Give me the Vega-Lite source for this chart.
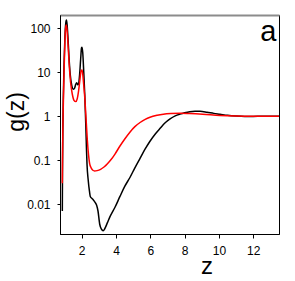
{
  "$schema": "https://vega.github.io/schema/vega-lite/v6.json",
  "width": 219,
  "height": 219,
  "autosize": "none",
  "padding": {"left": 60, "top": 15, "right": 16, "bottom": 47},
  "background": "white",
  "config": {
    "view": {"stroke": "#000000", "strokeWidth": 1},
    "font": "Liberation Sans"
  },
  "resolve": {"axis": {"x": "independent"}},
  "datasets": {
    "curves": [
      {"s": "black", "z": 0.87, "g": 0.007},
      {"s": "black", "z": 0.88, "g": 0.05},
      {"s": "black", "z": 0.9, "g": 0.5},
      {"s": "black", "z": 0.93, "g": 3},
      {"s": "black", "z": 0.97, "g": 15},
      {"s": "black", "z": 1.02, "g": 60},
      {"s": "black", "z": 1.07, "g": 130},
      {"s": "black", "z": 1.11, "g": 154},
      {"s": "black", "z": 1.15, "g": 120},
      {"s": "black", "z": 1.2, "g": 60},
      {"s": "black", "z": 1.26, "g": 22},
      {"s": "black", "z": 1.33, "g": 9},
      {"s": "black", "z": 1.42, "g": 5},
      {"s": "black", "z": 1.5, "g": 4.1},
      {"s": "black", "z": 1.58, "g": 4.3},
      {"s": "black", "z": 1.65, "g": 5.3},
      {"s": "black", "z": 1.71, "g": 5.8},
      {"s": "black", "z": 1.77, "g": 5.2},
      {"s": "black", "z": 1.82, "g": 5.5},
      {"s": "black", "z": 1.88, "g": 9},
      {"s": "black", "z": 1.94, "g": 20},
      {"s": "black", "z": 1.99, "g": 36},
      {"s": "black", "z": 2.02, "g": 37},
      {"s": "black", "z": 2.06, "g": 28},
      {"s": "black", "z": 2.12, "g": 10},
      {"s": "black", "z": 2.18, "g": 3},
      {"s": "black", "z": 2.24, "g": 0.6},
      {"s": "black", "z": 2.28, "g": 0.17},
      {"s": "black", "z": 2.31, "g": 0.08},
      {"s": "black", "z": 2.38, "g": 0.035},
      {"s": "black", "z": 2.45, "g": 0.02},
      {"s": "black", "z": 2.5, "g": 0.015},
      {"s": "black", "z": 2.6, "g": 0.0135},
      {"s": "black", "z": 2.68, "g": 0.0125},
      {"s": "black", "z": 2.78, "g": 0.011},
      {"s": "black", "z": 2.87, "g": 0.0095},
      {"s": "black", "z": 2.95, "g": 0.007},
      {"s": "black", "z": 3.05, "g": 0.0035},
      {"s": "black", "z": 3.15, "g": 0.0027},
      {"s": "black", "z": 3.25, "g": 0.0025},
      {"s": "black", "z": 3.35, "g": 0.0028},
      {"s": "black", "z": 3.5, "g": 0.0038},
      {"s": "black", "z": 3.65, "g": 0.0052},
      {"s": "black", "z": 3.94, "g": 0.0085},
      {"s": "black", "z": 4.23, "g": 0.015},
      {"s": "black", "z": 4.5, "g": 0.025},
      {"s": "black", "z": 4.82, "g": 0.041},
      {"s": "black", "z": 5.1, "g": 0.067},
      {"s": "black", "z": 5.4, "g": 0.11},
      {"s": "black", "z": 5.7, "g": 0.18},
      {"s": "black", "z": 5.98, "g": 0.27},
      {"s": "black", "z": 6.3, "g": 0.4},
      {"s": "black", "z": 6.57, "g": 0.53},
      {"s": "black", "z": 6.85, "g": 0.7},
      {"s": "black", "z": 7.15, "g": 0.87},
      {"s": "black", "z": 7.45, "g": 1.02},
      {"s": "black", "z": 7.73, "g": 1.12},
      {"s": "black", "z": 8.0, "g": 1.2},
      {"s": "black", "z": 8.3, "g": 1.27},
      {"s": "black", "z": 8.6, "g": 1.3},
      {"s": "black", "z": 8.9, "g": 1.29},
      {"s": "black", "z": 9.3, "g": 1.23},
      {"s": "black", "z": 9.7, "g": 1.16},
      {"s": "black", "z": 10.06, "g": 1.11},
      {"s": "black", "z": 10.5, "g": 1.05},
      {"s": "black", "z": 11.0, "g": 1.01},
      {"s": "black", "z": 11.5, "g": 0.99},
      {"s": "black", "z": 12.0, "g": 0.99},
      {"s": "black", "z": 12.5, "g": 1.0},
      {"s": "black", "z": 13.0, "g": 1.0},
      {"s": "black", "z": 13.5, "g": 1.0},
      {"s": "red", "z": 0.87, "g": 0.03},
      {"s": "red", "z": 0.88, "g": 0.1},
      {"s": "red", "z": 0.9, "g": 0.5},
      {"s": "red", "z": 0.93, "g": 2},
      {"s": "red", "z": 0.97, "g": 10},
      {"s": "red", "z": 1.02, "g": 50},
      {"s": "red", "z": 1.06, "g": 100},
      {"s": "red", "z": 1.1, "g": 119},
      {"s": "red", "z": 1.14, "g": 95},
      {"s": "red", "z": 1.2, "g": 45},
      {"s": "red", "z": 1.27, "g": 15},
      {"s": "red", "z": 1.35, "g": 6},
      {"s": "red", "z": 1.45, "g": 3.2},
      {"s": "red", "z": 1.55, "g": 2.3},
      {"s": "red", "z": 1.65, "g": 2.15},
      {"s": "red", "z": 1.74, "g": 2.5},
      {"s": "red", "z": 1.82, "g": 3.8},
      {"s": "red", "z": 1.9, "g": 7},
      {"s": "red", "z": 1.97, "g": 11},
      {"s": "red", "z": 2.02, "g": 11.3},
      {"s": "red", "z": 2.06, "g": 9},
      {"s": "red", "z": 2.12, "g": 5},
      {"s": "red", "z": 2.19, "g": 2.3},
      {"s": "red", "z": 2.26, "g": 0.8},
      {"s": "red", "z": 2.33, "g": 0.28},
      {"s": "red", "z": 2.4, "g": 0.13},
      {"s": "red", "z": 2.46, "g": 0.085},
      {"s": "red", "z": 2.55, "g": 0.067},
      {"s": "red", "z": 2.65, "g": 0.059},
      {"s": "red", "z": 2.75, "g": 0.057},
      {"s": "red", "z": 2.9, "g": 0.058},
      {"s": "red", "z": 3.1, "g": 0.062},
      {"s": "red", "z": 3.3, "g": 0.07},
      {"s": "red", "z": 3.5, "g": 0.083},
      {"s": "red", "z": 3.7, "g": 0.102},
      {"s": "red", "z": 3.94, "g": 0.138},
      {"s": "red", "z": 4.23, "g": 0.21},
      {"s": "red", "z": 4.5, "g": 0.3},
      {"s": "red", "z": 4.82, "g": 0.44},
      {"s": "red", "z": 5.1, "g": 0.58},
      {"s": "red", "z": 5.4, "g": 0.72},
      {"s": "red", "z": 5.7, "g": 0.85},
      {"s": "red", "z": 5.98, "g": 0.95},
      {"s": "red", "z": 6.4, "g": 1.05},
      {"s": "red", "z": 6.76, "g": 1.11},
      {"s": "red", "z": 7.2, "g": 1.15},
      {"s": "red", "z": 7.73, "g": 1.17},
      {"s": "red", "z": 8.3, "g": 1.15},
      {"s": "red", "z": 9.05, "g": 1.11},
      {"s": "red", "z": 10.06, "g": 1.04},
      {"s": "red", "z": 11.0, "g": 1.01},
      {"s": "red", "z": 12.0, "g": 1.0},
      {"s": "red", "z": 13.5, "g": 1.0}
    ],
    "labels": [{"z": 12.88, "g": 50, "t": "a"}]
  },
  "layer": [
    {
      "data": {"name": "curves"},
      "transform": [{"filter": "datum.s === 'black'"}],
      "mark": {"type": "line", "color": "#000000", "strokeWidth": 1.5, "interpolate": "monotone", "clip": true},
      "encoding": {
        "x": {
          "field": "z", "type": "quantitative",
          "scale": {"domain": [0.735, 13.5], "nice": false, "zero": false},
          "axis": {
            "title": "z", "values": [2, 4, 6, 8, 10, 12], "grid": false,
            "domainColor": "#000000", "tickColor": "#000000", "tickSize": 4,
            "labelFontSize": 12, "labelColor": "#000000", "labelPadding": 7,
            "labelFont": "Liberation Sans",
            "titleFont": "Liberation Sans", "titleFontSize": 24, "titleFontWeight": "normal",
            "titleColor": "#000000", "titleX": 146.5, "titleY": 39.5,
            "titleAlign": "center", "titleBaseline": "alphabetic"
          }
        },
        "y": {
          "field": "g", "type": "quantitative",
          "scale": {"type": "log", "domain": [0.0021, 200], "nice": false},
          "axis": {
            "title": "g(z)", "values": [0.01, 0.1, 1, 10, 100], "format": "~g", "grid": false,
            "domainColor": "#000000", "tickColor": "#000000", "tickSize": 3,
            "labelFontSize": 12, "labelColor": "#000000", "labelPadding": 7,
            "labelFont": "Liberation Sans",
            "titleFont": "Liberation Sans", "titleFontSize": 23, "titleFontWeight": "normal",
            "titleColor": "#000000", "titleX": -37, "titleY": 96.5,
            "titleAlign": "center", "titleBaseline": "alphabetic", "titleAngle": -90
          }
        }
      }
    },
    {
      "data": {"name": "curves"},
      "transform": [{"filter": "datum.s === 'red'"}],
      "mark": {"type": "line", "color": "#ff0000", "strokeWidth": 1.5, "interpolate": "monotone", "clip": true},
      "encoding": {
        "x": {
          "field": "z", "type": "quantitative",
          "axis": {"orient": "top", "title": null, "labels": false, "ticks": false, "grid": false, "domainColor": "#8c8c8c", "domainWidth": 2}
        },
        "y": {"field": "g", "type": "quantitative"}
      }
    },
    {
      "data": {"name": "labels"},
      "mark": {"type": "text", "fontSize": 29, "font": "Liberation Sans", "align": "center", "baseline": "alphabetic", "color": "#000000"},
      "encoding": {
        "x": {"field": "z", "type": "quantitative", "axis": null},
        "y": {"field": "g", "type": "quantitative"},
        "text": {"field": "t"}
      }
    }
  ]
}
